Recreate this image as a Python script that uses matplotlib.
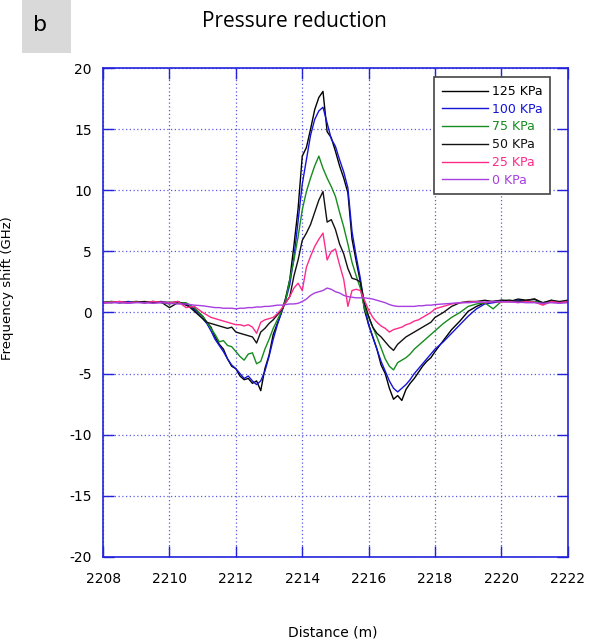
import matplotlib
matplotlib.use("Agg")
import matplotlib.pyplot as plt
from matplotlib.patches import Rectangle

plt.rcParams["axes.unicode_minus"] = False

# distance grid (m)
distance = [
    2208.0, 2208.25, 2208.5, 2208.75, 2209.0, 2209.25, 2209.5, 2209.75,
    2210.0, 2210.25, 2210.5, 2210.75,
    2211.0, 2211.125, 2211.25, 2211.375, 2211.5, 2211.625, 2211.75, 2211.875,
    2212.0, 2212.125, 2212.25, 2212.375, 2212.5, 2212.625, 2212.75, 2212.875,
    2213.0, 2213.125, 2213.25, 2213.375, 2213.5, 2213.625, 2213.75, 2213.875,
    2214.0, 2214.125, 2214.25, 2214.375, 2214.5, 2214.625, 2214.75, 2214.875,
    2215.0, 2215.125, 2215.25, 2215.375, 2215.5, 2215.625, 2215.75, 2215.875,
    2216.0, 2216.125, 2216.25, 2216.375, 2216.5, 2216.625, 2216.75, 2216.875,
    2217.0, 2217.125, 2217.25, 2217.375, 2217.5, 2217.625, 2217.75, 2217.875,
    2218.0,
    2218.25, 2218.5, 2218.75, 2219.0, 2219.25, 2219.5, 2219.75, 2220.0,
    2220.25, 2220.5, 2220.75, 2221.0, 2221.25, 2221.5, 2221.75, 2222.0,
]

kpa125 = [
    0.8, 0.9, 0.8, 0.85, 0.9, 0.8, 0.9, 0.85, 0.7, 0.9, 0.6, 0.3,
    -0.3, -0.8, -1.2, -2.0, -2.6, -3.0, -3.8, -4.4, -4.6,
    -5.2, -5.5, -5.4, -5.8, -5.6, -6.4, -4.6, -3.5,
    -1.8, -0.9, 0.0, 1.2, 2.7, 5.5, 8.5, 12.8,
    13.5, 15.0, 16.6, 17.6, 18.1, 14.8, 14.3, 13.2,
    12.0, 11.0, 9.8, 6.0, 4.2, 2.5, 0.2, -1.0,
    -2.0, -3.0, -4.3, -5.0, -6.2, -7.1, -6.8, -7.2,
    -6.3, -5.8, -5.4, -4.9, -4.4, -4.0, -3.7, -3.2,
    -2.3, -1.4, -0.7, 0.1, 0.5, 0.8, 0.9, 1.0,
    0.9, 1.1, 1.0, 1.1, 0.7, 1.0, 0.8, 1.0,
]

kpa100 = [
    0.8, 0.85, 0.8, 0.9, 0.85, 0.8, 0.85, 0.9, 0.8, 0.85, 0.7, 0.2,
    -0.5, -0.9, -1.5, -2.2, -2.7, -3.2, -3.8, -4.3, -4.6,
    -5.0, -5.4, -5.2, -5.6, -5.9, -5.6, -4.8, -3.6,
    -2.2, -1.0, 0.0, 1.0, 2.3, 4.5, 7.5, 10.5,
    12.5, 14.5, 15.8, 16.5, 16.8, 15.5, 14.2, 13.6,
    12.5, 11.5, 10.2, 6.6, 4.6, 2.8, 0.5, -1.0,
    -2.0, -3.0, -4.0, -4.8, -5.6, -6.2, -6.5, -6.2,
    -5.9, -5.5, -5.0, -4.6, -4.2, -3.8, -3.4, -3.0,
    -2.4, -1.7, -1.0, -0.3, 0.3, 0.7, 0.8, 0.9,
    0.9, 1.0, 0.9, 0.9, 0.8, 0.9, 0.8, 0.9,
]

kpa75 = [
    0.8, 0.9, 0.85, 0.8, 0.9, 0.85, 0.9, 0.8, 0.85, 0.8, 0.8, 0.4,
    -0.3, -0.8, -1.3, -1.8, -2.4, -2.3, -2.7, -2.8, -3.2,
    -3.6, -3.9, -3.4, -3.3, -4.2, -4.0, -3.0, -2.2,
    -1.3, -0.6, 0.1, 1.0, 2.7, 4.3, 6.2, 8.4,
    9.9, 11.0, 12.0, 12.8, 11.8, 11.0, 10.3, 9.5,
    8.2, 7.0, 5.6, 4.1, 3.0, 2.0, 0.3, -0.4,
    -1.2, -2.0, -2.9, -3.8, -4.4, -4.7, -4.1, -3.9,
    -3.7, -3.4, -3.0, -2.7, -2.4, -2.1, -1.8, -1.5,
    -0.9, -0.4, 0.0, 0.5, 0.7, 0.8, 0.3, 0.9,
    1.0, 0.9, 0.9, 0.9, 0.8, 0.9, 0.8, 0.9,
]

kpa50 = [
    0.85, 0.8, 0.9, 0.8, 0.85, 0.9, 0.8, 0.85, 0.4, 0.8, 0.7, 0.1,
    -0.5, -0.8, -0.9, -1.0, -1.1, -1.2, -1.3, -1.2, -1.6,
    -1.7, -1.8, -1.9, -2.0, -2.5, -1.6, -1.3, -0.9,
    -0.6, -0.2, 0.2, 0.8, 1.3, 3.0, 4.3, 5.9,
    6.5, 7.2, 8.2, 9.2, 9.9, 7.4, 7.6, 6.8,
    5.6, 4.8, 3.6, 2.8, 2.7, 2.5, 0.8, -0.3,
    -1.2, -1.7, -2.0, -2.4, -2.8, -3.1, -2.6, -2.3,
    -2.0, -1.8, -1.6, -1.4, -1.2, -1.0, -0.8, -0.4,
    0.0, 0.5, 0.8, 0.9, 0.9, 1.0, 0.9, 1.0,
    1.0, 0.9, 1.0, 1.1, 0.8, 1.0, 0.9, 1.0,
]

kpa25 = [
    0.8, 0.85, 0.9, 0.8, 0.85, 0.8, 0.9, 0.85, 0.8, 0.9, 0.4, 0.5,
    0.0, -0.2, -0.4, -0.5, -0.6, -0.7, -0.8, -0.9, -1.0,
    -1.0, -1.1, -1.0, -1.2, -1.7, -0.8, -0.6, -0.5,
    -0.4, -0.1, 0.3, 0.8, 1.3, 2.0, 2.4, 1.8,
    3.7, 4.6, 5.4, 6.0, 6.5, 4.3, 5.0, 5.2,
    3.9, 2.7, 0.5, 1.8, 1.9, 1.8, 1.0, 0.2,
    -0.4, -0.8, -1.1, -1.3, -1.6, -1.4, -1.3, -1.2,
    -1.0, -0.9, -0.7, -0.6, -0.4, -0.2, 0.0, 0.3,
    0.5, 0.7, 0.8, 0.85, 0.9, 0.8, 0.9, 0.85,
    0.9, 0.8, 0.9, 0.85, 0.6, 0.9, 0.8, 0.9,
]

kpa0 = [
    0.75, 0.8, 0.8, 0.75, 0.8, 0.8, 0.75, 0.8, 0.75, 0.7, 0.7, 0.6,
    0.55, 0.5, 0.45, 0.4, 0.4, 0.35, 0.35, 0.35, 0.3,
    0.35, 0.35, 0.4, 0.4, 0.45, 0.45, 0.5, 0.5,
    0.55, 0.6, 0.6, 0.65, 0.7, 0.7, 0.75, 0.9,
    1.1, 1.4, 1.6, 1.7, 1.8, 2.0, 1.9, 1.7,
    1.6, 1.4, 1.3, 1.25, 1.2, 1.2, 1.2, 1.15,
    1.1, 1.0, 0.9, 0.8, 0.65, 0.55, 0.5, 0.5,
    0.5, 0.5, 0.5, 0.55, 0.55, 0.6, 0.6, 0.65,
    0.7, 0.75, 0.8, 0.8, 0.85, 0.85, 0.9, 0.9,
    0.85, 0.85, 0.8, 0.8, 0.75, 0.8, 0.75, 0.8,
]

labels = ["125 KPa", "100 KPa", "75 KPa", "50 KPa", "25 KPa", "0 KPa"]
colors = ["#000000", "#1414d8", "#168c1e", "#111111", "#ff2a8a", "#a83ee0"]
series = [kpa125, kpa100, kpa75, kpa50, kpa25, kpa0]

xticks = [2208, 2210, 2212, 2214, 2216, 2218, 2220, 2222]
yticks = [-20, -15, -10, -5, 0, 5, 10, 15, 20]

fig = plt.figure(figsize=(5.89, 6.43), dpi=100)
ax = fig.add_axes([0.175, 0.134, 0.789, 0.760])

for vals, lab, col in zip(series, labels, colors):
    ax.plot(distance, vals, color=col, lw=1.0, label=lab)

ax.set_xlim(2208, 2222)
ax.set_ylim(-20, 20)
ax.set_xticks(xticks)
ax.set_yticks(yticks)
ax.grid(True, color="#5a5ae6", linestyle=(0, (1, 2)), linewidth=0.9)
ax.tick_params(direction="in", length=8, width=1.0, color="#2222dd",
               labelsize=10, top=True, right=True)
ax.tick_params(axis="x", pad=11)
ax.tick_params(axis="y", pad=8)
for sp in ax.spines.values():
    sp.set_color("#2222dd")
    sp.set_linewidth(1.2)

leg = ax.legend(loc="upper left", bbox_to_anchor=(0.713, 0.981),
                fontsize=9, frameon=True, fancybox=False,
                handlelength=3.7, handletextpad=0.3, labelspacing=0.38,
                borderpad=0.6, borderaxespad=0.0,
                labelcolor="linecolor", framealpha=1)
leg.get_frame().set_edgecolor("#444444")
leg.get_frame().set_linewidth(1.2)

# panel letter box and texts
fig.patches.append(Rectangle((0.037, 0.917), 0.083, 0.083, transform=fig.transFigure,
                             facecolor="#d9d9d9", edgecolor="none"))
fig.text(0.068, 0.961, "b", fontsize=16, ha="center", va="center")
fig.text(0.5, 0.966, "Pressure reduction", fontsize=15, ha="center", va="center",
         family="Open Sans")
fig.text(0.013, 0.552, "Frequency shift (GHz)", fontsize=9.5, rotation=90,
         ha="center", va="center")
fig.text(0.565, 0.016, "Distance (m)", fontsize=10, ha="center", va="center")

fig.savefig("out.png", dpi=100)
